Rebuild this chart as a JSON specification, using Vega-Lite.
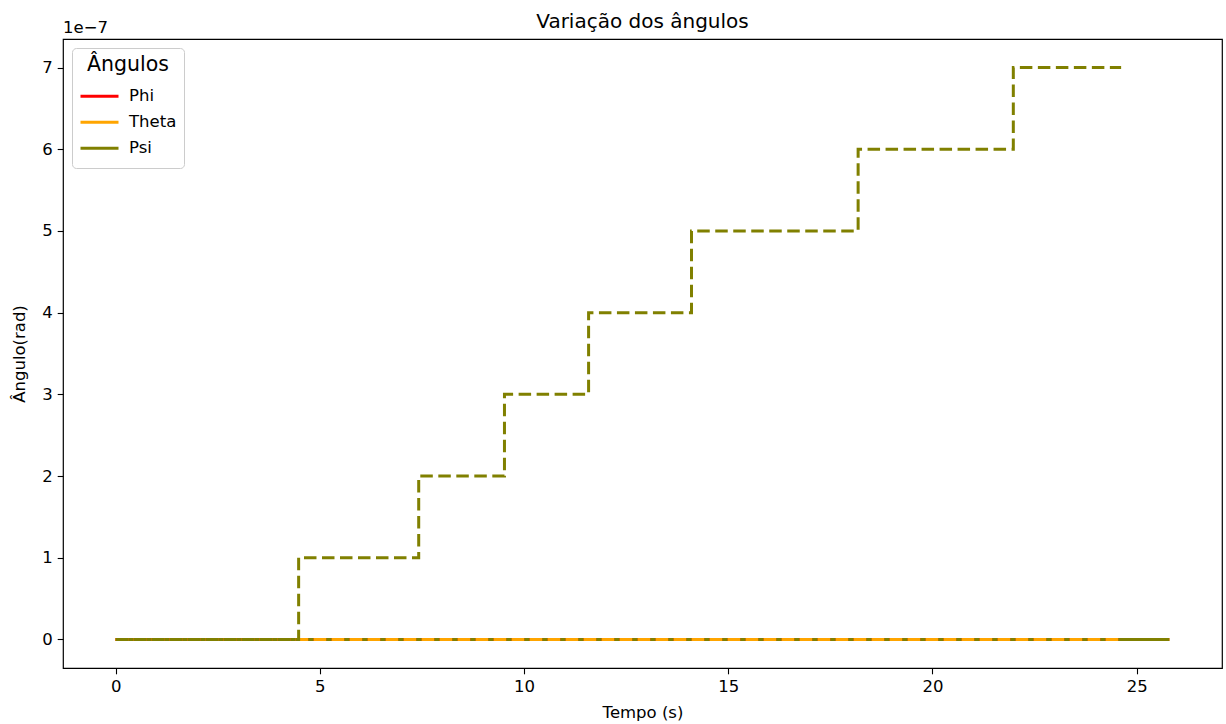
{
  "$schema": "https://vega.github.io/schema/vega-lite/v6.json",
  "autosize": "none",
  "width": 1159,
  "height": 629,
  "padding": {"left": 63, "top": 39, "right": 4, "bottom": 56},
  "background": "white",
  "title": {
    "text": "Variação dos ângulos",
    "font": "DejaVu Sans",
    "fontSize": 20,
    "fontWeight": "normal",
    "color": "#000000",
    "anchor": "middle",
    "offset": -12
  },
  "config": {
    "view": {"stroke": "#000000", "strokeWidth": 1.2},
    "axis": {
      "grid": false,
      "domain": false,
      "labelFont": "DejaVu Sans",
      "labelFontSize": 16.5,
      "labelColor": "#000000",
      "tickColor": "#000000",
      "tickSize": 5.8,
      "tickWidth": 1.1,
      "labelPadding": 5,
      "titleFont": "DejaVu Sans",
      "titleFontSize": 16.5,
      "titleFontWeight": "normal",
      "titleColor": "#000000"
    },
    "legend": {
      "orient": "none",
      "legendX": 9,
      "legendY": 9,
      "fillColor": "#ffffff",
      "strokeColor": "#cccccc",
      "cornerRadius": 4,
      "padding": 7,
      "titleFont": "DejaVu Sans",
      "titleFontSize": 20.5,
      "titleFontWeight": "normal",
      "titleColor": "#000000",
      "titleAnchor": "middle",
      "titleAlign": "center",
      "titlePadding": 8,
      "labelFont": "DejaVu Sans",
      "labelFontSize": 16.5,
      "labelColor": "#000000",
      "labelOffset": 9,
      "symbolType": "stroke",
      "symbolSize": 1444,
      "symbolStrokeWidth": 3,
      "clipHeight": 25.5,
      "rowPadding": 0
    }
  },
  "data": {
    "values": [
      {"t": 0, "ang": 0, "serie": "Phi", "tipo": "medido"},
      {"t": 25.8, "ang": 0, "serie": "Phi", "tipo": "medido"},
      {"t": 0, "ang": 0, "serie": "Theta", "tipo": "medido"},
      {"t": 25.8, "ang": 0, "serie": "Theta", "tipo": "medido"},
      {"t": 0, "ang": 0, "serie": "Psi", "tipo": "medido"},
      {"t": 25.8, "ang": 0, "serie": "Psi", "tipo": "medido"},
      {"t": 0, "ang": 0, "serie": "Phi", "tipo": "referencia"},
      {"t": 24.62, "ang": 0, "serie": "Phi", "tipo": "referencia"},
      {"t": 0, "ang": 0, "serie": "Theta", "tipo": "referencia"},
      {"t": 24.62, "ang": 0, "serie": "Theta", "tipo": "referencia"},
      {"t": 0, "ang": 0, "serie": "Psi", "tipo": "referencia"},
      {"t": 4.48, "ang": 1e-7, "serie": "Psi", "tipo": "referencia"},
      {"t": 7.42, "ang": 2e-7, "serie": "Psi", "tipo": "referencia"},
      {"t": 9.52, "ang": 3e-7, "serie": "Psi", "tipo": "referencia"},
      {"t": 11.58, "ang": 4e-7, "serie": "Psi", "tipo": "referencia"},
      {"t": 14.1, "ang": 5e-7, "serie": "Psi", "tipo": "referencia"},
      {"t": 18.18, "ang": 6e-7, "serie": "Psi", "tipo": "referencia"},
      {"t": 21.98, "ang": 7e-7, "serie": "Psi", "tipo": "referencia"},
      {"t": 24.62, "ang": 7e-7, "serie": "Psi", "tipo": "referencia"}
    ]
  },
  "layer": [
    {
      "encoding": {
        "x": {
          "field": "t",
          "type": "quantitative",
          "title": "Tempo (s)",
          "scale": {"domain": [-1.29, 27.09], "nice": false, "zero": false},
          "axis": {"values": [0, 5, 10, 15, 20, 25], "format": "d", "titlePadding": 9}
        },
        "y": {
          "field": "ang",
          "type": "quantitative",
          "title": "Ângulo(rad)",
          "scale": {"domain": [-3.5e-8, 7.35e-7], "nice": false, "zero": false},
          "axis": {
            "values": [0, 1e-7, 2e-7, 3e-7, 4e-7, 5e-7, 6e-7, 7e-7],
            "labelExpr": "format(round(datum.value * 1e7), 'd')",
            "titlePadding": 14
          }
        },
        "color": {
          "field": "serie",
          "type": "nominal",
          "title": "Ângulos",
          "scale": {"domain": ["Phi", "Theta", "Psi"], "range": ["#ff0000", "#ffa500", "#808000"]}
        }
      },
      "layer": [
        {
          "transform": [{"filter": "datum.tipo === 'medido' && datum.serie === 'Phi'"}],
          "mark": {"type": "line", "strokeWidth": 3, "clip": true}
        },
        {
          "transform": [{"filter": "datum.tipo === 'medido' && datum.serie === 'Theta'"}],
          "mark": {"type": "line", "strokeWidth": 3, "clip": true}
        },
        {
          "transform": [{"filter": "datum.tipo === 'medido' && datum.serie === 'Psi'"}],
          "mark": {"type": "line", "strokeWidth": 3, "clip": true}
        },
        {
          "transform": [{"filter": "datum.tipo === 'referencia' && datum.serie === 'Phi'"}],
          "mark": {"type": "line", "strokeWidth": 3, "strokeDash": [12.5, 5.5], "interpolate": "step-after", "clip": true}
        },
        {
          "transform": [{"filter": "datum.tipo === 'referencia' && datum.serie === 'Theta'"}],
          "mark": {"type": "line", "strokeWidth": 3, "strokeDash": [12.5, 5.5], "interpolate": "step-after", "clip": true}
        },
        {
          "transform": [{"filter": "datum.tipo === 'referencia' && datum.serie === 'Psi'"}],
          "mark": {"type": "line", "strokeWidth": 3, "strokeDash": [12.5, 5.5], "interpolate": "step-after", "clip": true}
        }
      ]
    },
    {
      "data": {"values": [{"rotulo": "1e−7"}]},
      "mark": {"type": "text", "align": "left", "baseline": "bottom", "dy": -3, "font": "DejaVu Sans", "fontSize": 16.5, "fill": "#000000", "clip": false},
      "encoding": {
        "x": {"datum": -1.29, "type": "quantitative"},
        "y": {"datum": 7.35e-7, "type": "quantitative"},
        "text": {"field": "rotulo", "type": "nominal"}
      }
    }
  ]
}
